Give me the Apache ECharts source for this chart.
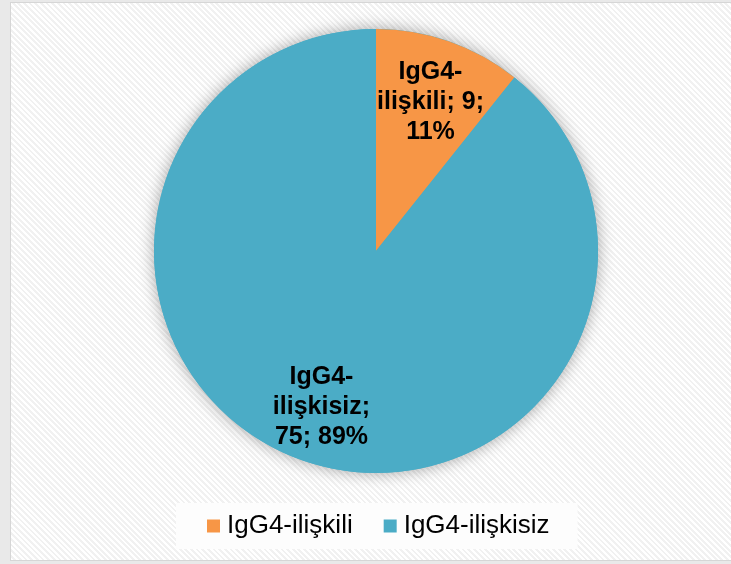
<!DOCTYPE html>
<html>
<head>
<meta charset="utf-8">
<script src="https://cdn.jsdelivr.net/npm/echarts@6/dist/echarts.min.js"></script>
<style>
html,body{margin:0;padding:0;background:#e9e9e9;width:731px;height:564px;overflow:hidden;}
#panel{position:absolute;left:10px;top:2px;width:730px;height:557px;border:1px solid #d6d6d6;
background:repeating-linear-gradient(45deg,#ffffff 0px,#ffffff 2px,#f1f1f1 2px,#f1f1f1 4px);}
#chart{position:absolute;left:0;top:0;width:731px;height:564px;}
</style>
</head>
<body>
<div id="panel"></div>
<div id="chart"></div>
<script>
const categories = ['IgG4-ilişkili', 'IgG4-ilişkisiz'];
const values = [9, 75];
const percents = ['11%', '89%'];
const labelLines = [['IgG4-', 'ilişkili; 9;', '11%'], ['IgG4-', 'ilişkisiz;', '75; 89%']];
const colors = ['#F79646', '#4BACC6'];

const chart = echarts.init(document.getElementById('chart'), null, {renderer: 'canvas'});
const center = [376, 251];
const R = 222;
const labelOffsets = [[0, 7], [0, 0]];

const mainData = categories.map((c, i) => ({name: c, value: values[i], itemStyle: {color: colors[i]}}));
const labelData = categories.map((c, i) => ({
  name: c, value: values[i],
  itemStyle: {color: 'rgba(0,0,0,0)'},
  label: {formatter: labelLines[i].join('\n'), offset: labelOffsets[i]}
}));

chart.setOption({
  animation: false,
  backgroundColor: 'transparent',
  legend: {
    data: categories.map((c, i) => ({name: c, itemStyle: {color: colors[i], opacity: 1}})),
    bottom: 15,
    left: 176,
    icon: 'rect',
    itemWidth: 13,
    itemHeight: 13,
    itemGap: 31,
    padding: [10, 28, 10, 31],
    backgroundColor: '#fdfdfd',
    textStyle: {fontFamily: 'Liberation Sans, Arial', fontSize: 26, color: '#000', padding: [0, 0, 0, 2]},
    selectedMode: false
  },
  series: [
    {
      type: 'pie', silent: true, center: center, radius: R, z: 1,
      label: {show: false}, labelLine: {show: false},
      data: [{name: '_bg', value: 1, itemStyle: {color: colors[1], shadowBlur: 16, shadowColor: 'rgba(0,0,0,0.35)'}}]
    },
    {
      type: 'pie', center: center, radius: R, startAngle: 90, clockwise: true, z: 2,
      label: {show: false}, labelLine: {show: false},
      emphasis: {disabled: true},
      data: mainData
    },
    {
      type: 'pie', center: center, radius: [102, R], startAngle: 90, clockwise: true, z: 3,
      silent: true,
      label: {
        show: true, position: 'inside', color: '#000',
        fontFamily: 'Liberation Sans, Arial', fontWeight: 'bold', fontSize: 25, lineHeight: 30,
        align: 'center'
      },
      labelLine: {show: false},
      data: labelData
    }
  ]
});
</script>
</body>
</html>
